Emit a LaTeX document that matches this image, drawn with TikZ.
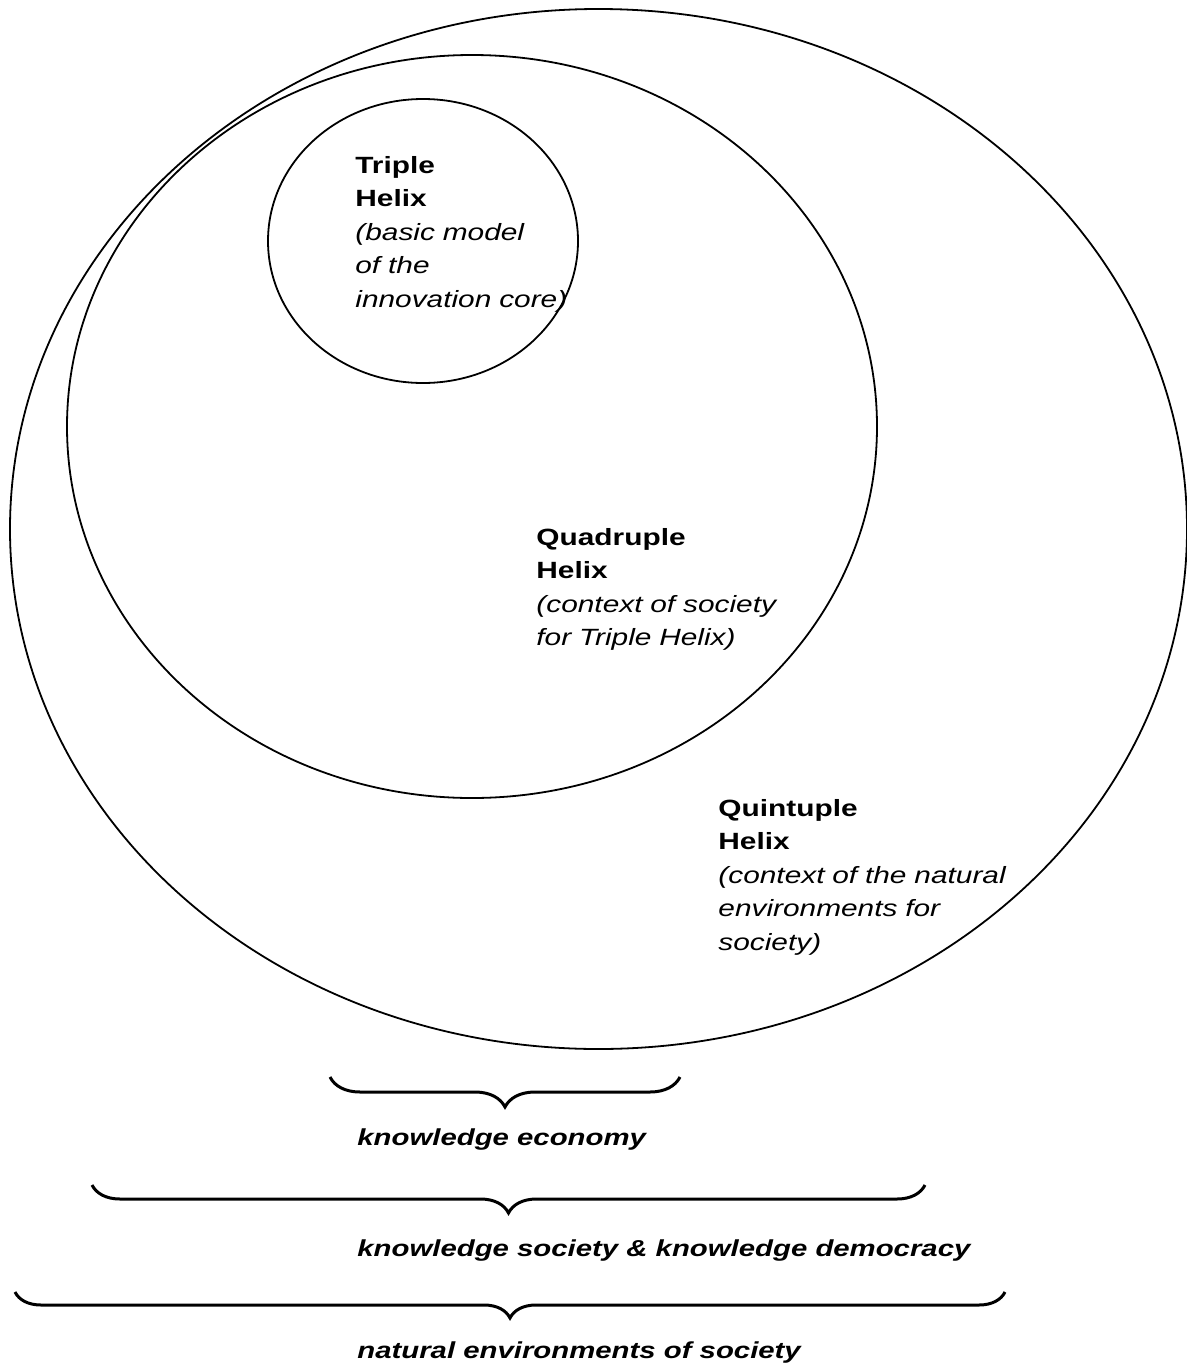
\documentclass[tikz,border=0pt]{standalone}
\usepackage{fontspec}
\setmainfont{Liberation Sans}[FakeStretch=1.27]
\usetikzlibrary{shapes.geometric,decorations.pathreplacing}

\begin{document}
\begin{tikzpicture}[x=0.5pt,y=-0.5pt,
  ring/.style={draw,ellipse,line width=0.9pt,inner sep=0pt},
  helixtext/.style={anchor=base west,inner sep=0pt,align=left,text width=170pt,
    font=\fontsize{11.75pt}{16.75pt}\selectfont},
  scopebrace/.style={draw,line width=1.5pt,decorate,
    decoration={brace,mirror,amplitude=#1}},
  scopelabel/.style={anchor=base west,inner sep=0pt,
    font=\fontsize{11.55pt}{16.75pt}\selectfont\bfseries\itshape}]
\useasboundingbox (0,0) rectangle (1187,1365);

% nested helix models
\node[ring,minimum width=588.5pt,minimum height=520pt] (quint) at (598.5,529) {};
\node[ring,minimum width=405pt,minimum height=371.5pt] (quad) at (472,426.5) {};
\node[ring,minimum width=155pt,minimum height=142pt] (triple) at (423,241) {};

% labels of the helices
\node[helixtext] (tripletext) at (355,173)
  {\textbf{Triple}\\ \textbf{Helix}\\ \textit{(basic model}\\ \textit{of the}\\ \textit{innovation core)}};
\node[helixtext] (quadtext) at (536,545)
  {\textbf{Quadruple}\\ \textbf{Helix}\\ \textit{(context of society}\\ \textit{for Triple Helix)}};
\node[helixtext] (quinttext) at (718,816)
  {\textbf{Quintuple}\\ \textbf{Helix}\\ \textit{(context of the natural}\\ \textit{environments for}\\ \textit{society)}};

% braces marking the scope of each model
\coordinate (b1l) at (330,1077);
\coordinate (b1r) at (680,1077);
\coordinate (b2l) at (92,1185);
\coordinate (b2r) at (925,1185);
\coordinate (b3l) at (15,1292);
\coordinate (b3r) at (1005,1292);
\path[scopebrace=15pt] (b1l) -- (b1r);
\path[scopebrace=14pt] (b2l) -- (b2r);
\path[scopebrace=13pt] (b3l) -- (b3r);

\node[scopelabel] (econ) at (357,1145) {knowledge economy};
\node[scopelabel] (soc) at (357,1256) {knowledge society \& knowledge democracy};
\node[scopelabel] (nat) at (357,1358) {natural environments of society};
\end{tikzpicture}
\end{document}
